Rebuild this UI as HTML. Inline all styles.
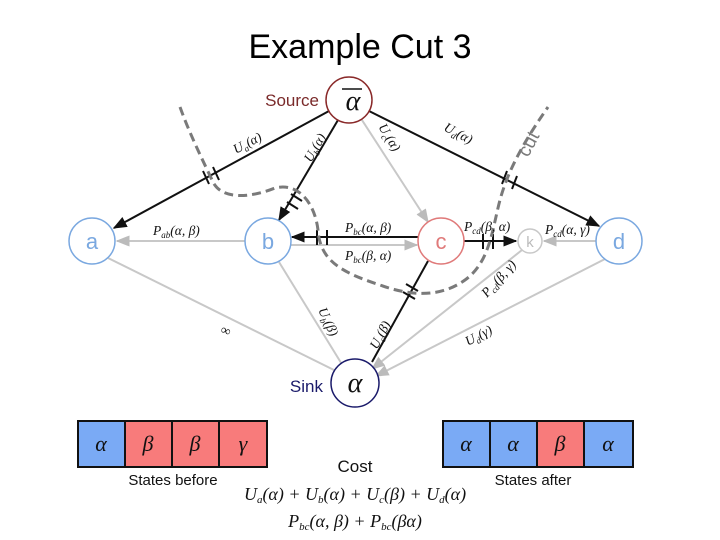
<!DOCTYPE html>
<html><head><meta charset="utf-8"><style>
html,body{margin:0;padding:0;background:#fff;width:720px;height:540px;overflow:hidden}
svg{display:block}
.m{font-family:"Liberation Serif",serif;font-style:italic;font-size:13.5px;fill:#111}
.s{font-family:"Liberation Sans",sans-serif}
</style></head><body>
<svg width="720" height="540" viewBox="0 0 720 540" xmlns="http://www.w3.org/2000/svg">
<defs>
<marker id="ab" viewBox="0 0 10 10" refX="9" refY="5" markerWidth="7" markerHeight="7" orient="auto"><path d="M0,1 L10,5 L0,9 z" fill="#111"/></marker>
<marker id="ag" viewBox="0 0 10 10" refX="9" refY="5" markerWidth="7" markerHeight="7" orient="auto"><path d="M0,1 L10,5 L0,9 z" fill="#bbb"/></marker>
</defs>
<text x="360" y="58" text-anchor="middle" font-family="Liberation Sans,sans-serif" font-size="34" fill="#000">Example Cut 3</text>

<g stroke="#c8c8c8" stroke-width="2" fill="none">
<line x1="349" y1="100" x2="428" y2="222" marker-end="url(#ag)"/>
<line x1="245" y1="241" x2="117" y2="241" marker-end="url(#ag)"/>
<line x1="291" y1="245" x2="417" y2="245" marker-end="url(#ag)"/>
<line x1="596" y1="241" x2="544" y2="241" marker-end="url(#ag)"/>
<line x1="108" y1="258" x2="338" y2="372"/>
<line x1="279" y1="262" x2="343" y2="366"/>
<line x1="522" y1="250" x2="372" y2="369" marker-end="url(#ag)"/>
<line x1="605" y1="259" x2="376" y2="376" marker-end="url(#ag)"/>
</g>
<g stroke="#111" stroke-width="2" fill="none">
<line x1="329" y1="111" x2="114" y2="228" marker-end="url(#ab)"/>
<line x1="338" y1="120" x2="279" y2="220" marker-end="url(#ab)"/>
<line x1="369" y1="111" x2="599" y2="226" marker-end="url(#ab)"/>
<line x1="418" y1="237" x2="292" y2="237" marker-end="url(#ab)"/>
<line x1="464" y1="241" x2="516" y2="241" marker-end="url(#ab)"/>
<line x1="428" y1="261" x2="372" y2="362"/>
</g>
<g stroke="#111" stroke-width="2">
<line x1="203" y1="171" x2="209" y2="184"/><line x1="213" y1="167" x2="219" y2="180"/>
<line x1="291" y1="194" x2="302" y2="201"/><line x1="287" y1="202" x2="298" y2="209"/>
<line x1="317" y1="230" x2="317" y2="245"/><line x1="327" y1="230" x2="327" y2="245"/>
<line x1="507" y1="171" x2="502" y2="184"/><line x1="517" y1="176" x2="512" y2="189"/>
<line x1="483" y1="234" x2="483" y2="249"/><line x1="493" y1="234" x2="493" y2="249"/>
<line x1="406" y1="284" x2="418" y2="291"/><line x1="403" y1="292" x2="415" y2="299"/>
</g>
<path d="M180,107 C190,135 205,165 213,182 C222,200 250,198 275,188 C300,182 315,205 318,230 C320,260 340,272 380,285 C410,296 440,298 465,280 C490,262 492,230 500,200 C508,170 525,140 548,107" stroke="#7a7a7a" stroke-width="3" stroke-dasharray="9,5" fill="none"/>
<text x="0" y="0" transform="translate(528,158) rotate(-62)" class="s" font-size="19" fill="#7a7a7a">cut</text>

<g stroke-width="1.5" fill="#fff">
<circle cx="349" cy="100" r="23" stroke="#8a2a2a"/>
<circle cx="92" cy="241" r="23" stroke="#7aa8e0"/>
<circle cx="268" cy="241" r="23" stroke="#7aa8e0"/>
<circle cx="441" cy="241" r="23" stroke="#e07a7a"/>
<circle cx="530" cy="241" r="12" stroke="#c8c8c8"/>
<circle cx="619" cy="241" r="23" stroke="#7aa8e0"/>
<circle cx="355" cy="383" r="24" stroke="#1a1a6a"/>
</g>
<g class="s" text-anchor="middle" font-size="22">
<text x="92" y="249" fill="#7aa8e0">a</text>
<text x="268" y="249" fill="#7aa8e0">b</text>
<text x="441" y="249" fill="#e07a7a">c</text>
<text x="530" y="247" fill="#bbb" font-size="15">k</text>
<text x="619" y="249" fill="#7aa8e0">d</text>
</g>
<text x="353" y="110" text-anchor="middle" font-family="Liberation Serif,serif" font-style="italic" font-size="28" fill="#111">α</text>
<line x1="342" y1="89" x2="362" y2="89" stroke="#111" stroke-width="1.5"/>
<text x="355" y="392" text-anchor="middle" font-family="Liberation Serif,serif" font-style="italic" font-size="28" fill="#111">α</text>
<text x="319" y="106" text-anchor="end" class="s" font-size="17" fill="#7a2a2a">Source</text>
<text x="323" y="392" text-anchor="end" class="s" font-size="17" fill="#1a1a6a">Sink</text>

<text class="m" transform="translate(236,154) rotate(-28)">U<tspan font-size="9" dy="3">a</tspan><tspan dy="-3">(α)</tspan></text>
<text class="m" transform="translate(311,163) rotate(-60)">U<tspan font-size="9" dy="3">b</tspan><tspan dy="-3">(α)</tspan></text>
<text class="m" transform="translate(378,127) rotate(58)">U<tspan font-size="9" dy="3">c</tspan><tspan dy="-3">(α)</tspan></text>
<text class="m" transform="translate(443,130) rotate(28)">U<tspan font-size="9" dy="3">d</tspan><tspan dy="-3">(α)</tspan></text>
<text class="m" x="153" y="235">P<tspan font-size="9" dy="3">ab</tspan><tspan dy="-3">(α, β)</tspan></text>
<text class="m" x="345" y="232">P<tspan font-size="9" dy="3">bc</tspan><tspan dy="-3">(α, β)</tspan></text>
<text class="m" x="345" y="260">P<tspan font-size="9" dy="3">bc</tspan><tspan dy="-3">(β, α)</tspan></text>
<text class="m" x="464" y="231">P<tspan font-size="9" dy="3">cd</tspan><tspan dy="-3">(β, α)</tspan></text>
<text class="m" x="545" y="234">P<tspan font-size="9" dy="3">cd</tspan><tspan dy="-3">(α, γ)</tspan></text>
<text class="m" transform="translate(487,298) rotate(-48)">P<tspan font-size="9" dy="3">cd</tspan><tspan dy="-3">(β, γ)</tspan></text>
<text class="m" transform="translate(468,346) rotate(-28)">U<tspan font-size="9" dy="3">d</tspan><tspan dy="-3">(γ)</tspan></text>
<text class="m" transform="translate(318,310) rotate(65)">U<tspan font-size="9" dy="3">b</tspan><tspan dy="-3">(β)</tspan></text>
<text class="m" transform="translate(377,350) rotate(-62)">U<tspan font-size="9" dy="3">c</tspan><tspan dy="-3">(β)</tspan></text>
<text class="m" x="221" y="335" font-size="15" transform="rotate(20 226 331)">∞</text>

<g stroke="#111" stroke-width="2">
<rect x="78" y="421" width="47" height="46" fill="#7aaaf5"/>
<rect x="125" y="421" width="47" height="46" fill="#f87b7b"/>
<rect x="172" y="421" width="47" height="46" fill="#f87b7b"/>
<rect x="219" y="421" width="48" height="46" fill="#f87b7b"/>
<rect x="443" y="421" width="47" height="46" fill="#7aaaf5"/>
<rect x="490" y="421" width="47" height="46" fill="#7aaaf5"/>
<rect x="537" y="421" width="47" height="46" fill="#f87b7b"/>
<rect x="584" y="421" width="49" height="46" fill="#7aaaf5"/>
</g>
<g font-family="Liberation Serif,serif" font-style="italic" font-size="22" fill="#111" text-anchor="middle">
<text x="101" y="451">α</text><text x="148" y="451">β</text><text x="195" y="451">β</text><text x="243" y="451">γ</text>
<text x="466" y="451">α</text><text x="513" y="451">α</text><text x="560" y="451">β</text><text x="608" y="451">α</text>
</g>
<text x="173" y="485" text-anchor="middle" class="s" font-size="15" fill="#111">States before</text>
<text x="533" y="485" text-anchor="middle" class="s" font-size="15" fill="#111">States after</text>
<text x="355" y="472" text-anchor="middle" class="s" font-size="17" fill="#111">Cost</text>
<text x="355" y="500" text-anchor="middle" font-family="Liberation Serif,serif" font-style="italic" font-size="18" fill="#111">U<tspan font-size="11" dy="3">a</tspan><tspan dy="-3">(α) + U</tspan><tspan font-size="11" dy="3">b</tspan><tspan dy="-3">(α) + U</tspan><tspan font-size="11" dy="3">c</tspan><tspan dy="-3">(β) + U</tspan><tspan font-size="11" dy="3">d</tspan><tspan dy="-3">(α)</tspan></text>
<text x="355" y="527" text-anchor="middle" font-family="Liberation Serif,serif" font-style="italic" font-size="18" fill="#111">P<tspan font-size="11" dy="3">bc</tspan><tspan dy="-3">(α, β) + P</tspan><tspan font-size="11" dy="3">bc</tspan><tspan dy="-3">(βα)</tspan></text>
</svg>
</body></html>
